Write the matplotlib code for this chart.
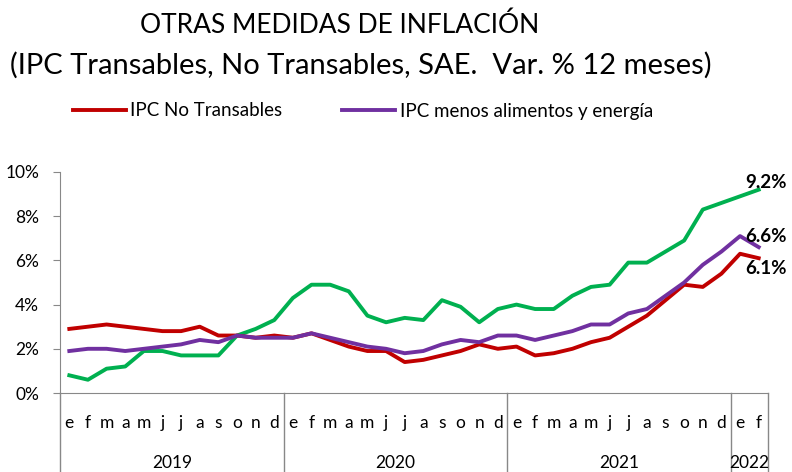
import numpy as np
import matplotlib
matplotlib.use("Agg")
import matplotlib.pyplot as plt
import matplotlib.transforms as mtransforms

plt.rcParams['font.family'] = ['Lato', 'DejaVu Sans']

# ---------------- Data ----------------
months = ["e", "f", "m", "a", "m", "j", "j", "a", "s", "o", "n", "d"] * 3 + ["e", "f"]
years = ["2019", "2020", "2021", "2022"]
year_edges = [0, 12, 24, 36, 38]

transables = [0.8, 0.6, 1.1, 1.2, 1.9, 1.9, 1.7, 1.7, 1.7, 2.6, 2.9, 3.3,
              4.3, 4.9, 4.9, 4.6, 3.5, 3.2, 3.4, 3.3, 4.2, 3.9, 3.2, 3.8,
              4.0, 3.8, 3.8, 4.4, 4.8, 4.9, 5.9, 5.9, 6.4, 6.9, 8.3, 8.6,
              8.9, 9.2]
no_transables = [2.9, 3.0, 3.1, 3.0, 2.9, 2.8, 2.8, 3.0, 2.6, 2.6, 2.5, 2.6,
                 2.5, 2.7, 2.4, 2.1, 1.9, 1.9, 1.4, 1.5, 1.7, 1.9, 2.2, 2.0,
                 2.1, 1.7, 1.8, 2.0, 2.3, 2.5, 3.0, 3.5, 4.2, 4.9, 4.8, 5.4,
                 6.3, 6.1]
sae = [1.9, 2.0, 2.0, 1.9, 2.0, 2.1, 2.2, 2.4, 2.3, 2.6, 2.5, 2.5,
       2.5, 2.7, 2.5, 2.3, 2.1, 2.0, 1.8, 1.9, 2.2, 2.4, 2.3, 2.6,
       2.6, 2.4, 2.6, 2.8, 3.1, 3.1, 3.6, 3.8, 4.4, 5.0, 5.8, 6.4,
       7.1, 6.6]

x = np.arange(len(months)) + 0.5

fig = plt.figure(figsize=(7.92, 4.72), dpi=100)
ax = fig.add_axes([60 / 792, 79 / 472, 708 / 792, 221 / 472])

ax.plot(x, transables, color="#00B050", lw=2.8, label="IPC Transables")
l_nt, = ax.plot(x, no_transables, color="#C00000", lw=2.8, label="IPC No Transables")
l_sae, = ax.plot(x, sae, color="#7030A0", lw=2.8, label="IPC menos alimentos y energía")

ax.set_xlim(0, 38)
ax.set_ylim(0, 10)
ax.set_yticks(range(0, 11, 2))
ax.set_yticklabels([f"{v}%" for v in range(0, 11, 2)], fontsize=12.5)
ax.tick_params(axis="y", length=5, color="#888888", pad=10)
ax.set_xticks([])
for s in ["top", "right"]:
    ax.spines[s].set_visible(False)
ax.spines["left"].set_color("#888888")
ax.spines["bottom"].set_color("#888888")

# category axis: month letters, years and separators
trans = mtransforms.blended_transform_factory(ax.transData, ax.transAxes)
for xi, m in zip(x, months):
    ax.text(xi, -0.135, m, transform=trans, ha="center", va="center", fontsize=12.5)
for i, yr in enumerate(years):
    mid = (year_edges[i] + year_edges[i + 1]) / 2
    ax.text(mid, -0.315, yr, transform=trans, ha="center", va="center", fontsize=12.5)
for e in year_edges:
    ax.plot([e, e], [0, -0.36], transform=trans, color="#888888", lw=1, clip_on=False)

# end labels
ax.annotate("9.2%", (x[-1], transables[-1]), xytext=(-10, 5), textcoords="offset points",
            fontsize=13.5, fontweight="bold", ha="left", va="center")
ax.annotate("6.6%", (x[-1], sae[-1]), xytext=(-10, 8), textcoords="offset points",
            fontsize=13.5, fontweight="bold", ha="left", va="center")
ax.annotate("6.1%", (x[-1], no_transables[-1]), xytext=(-10, -7.5), textcoords="offset points",
            fontsize=13.5, fontweight="bold", ha="left", va="center")

fig.text(340 / 792, 1 - 25 / 472, "OTRAS MEDIDAS DE INFLACIÓN", ha="center", va="center",
         fontsize=19)
fig.text(361 / 792, 1 - 65 / 472, "(IPC Transables, No Transables, SAE.  Var. % 12 meses)",
         ha="center", va="center", fontsize=21)

fig.legend(handles=[l_nt, l_sae], loc="center left", bbox_to_anchor=(73 / 792, 1 - 111 / 472),
           ncol=2, frameon=False, fontsize=13.5, handlelength=2.8, handletextpad=0.25,
           columnspacing=3.2, borderpad=0, borderaxespad=0)

fig.savefig("out.png", dpi=100)
